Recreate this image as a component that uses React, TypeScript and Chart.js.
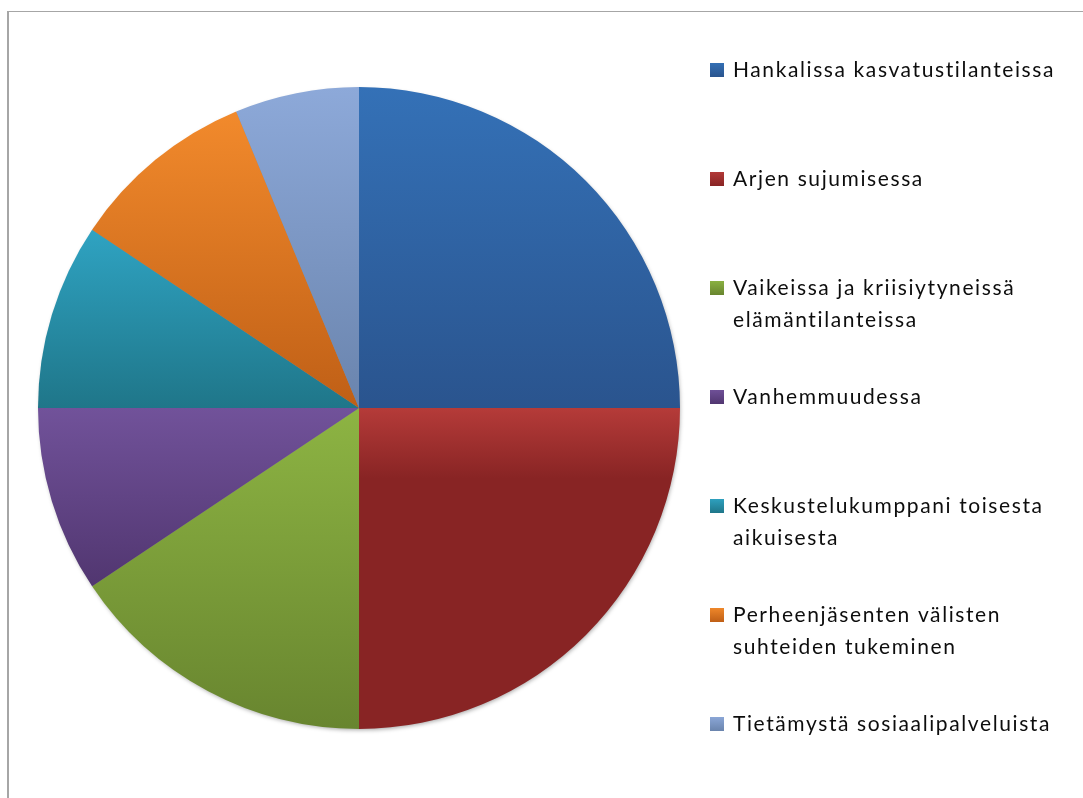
import React, { useEffect, useRef } from "react";
import { Chart, registerables } from "chart.js";

Chart.register(...registerables);

const categories: string[][] = [
  ["Hankalissa kasvatustilanteissa"],
  ["Arjen sujumisessa"],
  ["Vaikeissa ja kriisiytyneissä", "elämäntilanteissa"],
  ["Vanhemmuudessa"],
  ["Keskustelukumppani toisesta", "aikuisesta"],
  ["Perheenjäsenten välisten", "suhteiden tukeminen"],
  ["Tietämystä sosiaalipalveluista"],
];
const values: number[] = [8, 8, 5, 3, 3, 3, 2];
const topColors: string[] = ["#3471b7", "#b53b39", "#8db443", "#71529a", "#2fa3c2", "#f28a2c", "#8da9d9"];
const bottomColors: string[] = ["#2a548e", "#882424", "#68852f", "#513670", "#1f7689", "#bf5f16", "#6a84ad"];
const darkStop: number[] = [1, 0.22, 1, 1, 1, 1, 1];

const FONT = "Lato, 'Open Sans', sans-serif";

function sliceGradient(ctx: any) {
  const chart = ctx.chart;
  const i = ctx.dataIndex ?? 0;
  const area = chart.chartArea;
  if (!area) return topColors[i];
  const cx = (area.left + area.right) / 2;
  const cy = (area.top + area.bottom) / 2;
  const r = Math.min(area.right - area.left, area.bottom - area.top) / 2;
  const total = values.reduce((a, b) => a + b, 0);
  let start = -Math.PI / 2;
  for (let k = 0; k < i; k++) start += (values[k] / total) * Math.PI * 2;
  const end = start + (values[i] / total) * Math.PI * 2;
  const ys = [cy, cy + r * Math.sin(start), cy + r * Math.sin(end)];
  const norm = (a: number) => ((a % (2 * Math.PI)) + 2 * Math.PI) % (2 * Math.PI);
  const inArc = (a: number) => {
    const s = norm(start);
    const span = end - start;
    const d = norm(a - s);
    return d <= span + 1e-9;
  };
  if (inArc(-Math.PI / 2)) ys.push(cy - r);
  if (inArc(Math.PI / 2)) ys.push(cy + r);
  const y0 = Math.min(...ys);
  const y1 = Math.max(...ys);
  const g = chart.ctx.createLinearGradient(0, y0, 0, Math.max(y1, y0 + 1));
  g.addColorStop(0, topColors[i]);
  g.addColorStop(darkStop[i], bottomColors[i]);
  if (darkStop[i] < 1) g.addColorStop(1, bottomColors[i]);
  return g;
}

const framePlugin = {
  id: "frame",
  beforeDraw(chart: any) {
    const c = chart.ctx;
    c.save();
    c.fillStyle = "#ffffff";
    c.fillRect(0, 0, chart.width, chart.height);
    c.fillStyle = "#a6a6a6";
    c.fillRect(7, 11, 2, chart.height - 11);
    c.fillRect(7, 11, chart.width - 7, 1);
    c.restore();
  },
  beforeDatasetsDraw(chart: any) {
    const area = chart.chartArea;
    const c = chart.ctx;
    const cx = (area.left + area.right) / 2;
    const cy = (area.top + area.bottom) / 2;
    const r = Math.min(area.right - area.left, area.bottom - area.top) / 2;
    c.save();
    c.shadowColor = "rgba(0,0,0,0.35)";
    c.shadowBlur = 4;
    c.shadowOffsetX = 1;
    c.shadowOffsetY = 2;
    c.fillStyle = "#888888";
    c.beginPath();
    c.arc(cx, cy, r - 1, 0, Math.PI * 2);
    c.fill();
    c.restore();
  },
};

const legendPlugin = {
  id: "customLegend",
  afterDraw(chart: any) {
    const c = chart.ctx;
    c.save();
    c.font = `21px ${FONT}`;
    (c as any).letterSpacing = "1.6px";
    c.textBaseline = "alphabetic";
    c.textAlign = "left";
    const baseX = 710;
    const firstBaseline = 77;
    const step = 109;
    const lineH = 32;
    categories.forEach((lines, i) => {
      const by = firstBaseline + step * i;
      const g = c.createLinearGradient(0, by - 15, 0, by);
      g.addColorStop(0, topColors[i]);
      g.addColorStop(1, bottomColors[i]);
      c.fillStyle = g;
      c.fillRect(baseX, by - 14, 14, 14);
      c.fillStyle = "#0d0d0d";
      lines.forEach((t, j) => c.fillText(t, baseX + 23, by + j * lineH));
    });
    c.restore();
  },
};

export default function App() {
  const ref = useRef<HTMLCanvasElement | null>(null);
  useEffect(() => {
    document.body.style.margin = "0";
    const chart = new Chart(ref.current as HTMLCanvasElement, {
      type: "pie",
      data: {
        labels: categories.map((l) => l.join(" ")),
        datasets: [
          {
            data: values,
            backgroundColor: sliceGradient as any,
            borderWidth: 0,
          },
        ],
      },
      options: {
        animation: false,
        responsive: false,
        layout: { padding: { left: 38, top: 87, right: 403, bottom: 69 } },
        plugins: {
          legend: { display: false },
          tooltip: { enabled: false },
        },
      },
      plugins: [framePlugin, legendPlugin],
    });
    return () => chart.destroy();
  }, []);
  return (
    <div style={{ width: 1083, height: 798, overflow: "hidden" }}>
      <canvas ref={ref} width={1083} height={798} style={{ display: "block" }} />
    </div>
  );
}
